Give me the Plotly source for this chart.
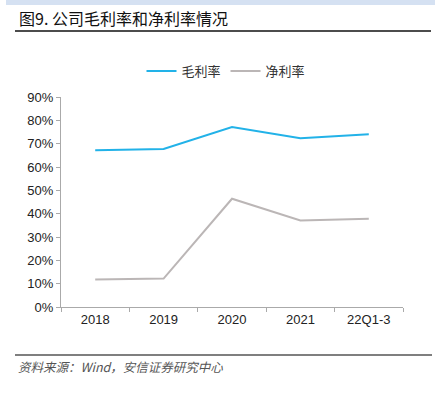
import plotly.graph_objects as go

categories = ["2018", "2019", "2020", "2021", "22Q1-3"]
gross_margin = [67.2, 67.7, 77.1, 72.3, 74.0]
net_margin = [11.8, 12.2, 46.4, 37.1, 37.8]
y_ticks = [0, 10, 20, 30, 40, 50, 60, 70, 80, 90]
y_tick_labels = [f"{v}%" for v in y_ticks]

W, H = 435, 394
L, R, T, B = 61, 32, 97, 87

def px(x):
    return (x - L) / (W - L - R)

def py(y):
    return (H - B - y) / (H - T - B)

fig = go.Figure()
fig.add_trace(go.Scatter(x=categories, y=gross_margin, mode="lines", name="毛利率",
                         line=dict(color="#22b2e8", width=2)))
fig.add_trace(go.Scatter(x=categories, y=net_margin, mode="lines", name="净利率",
                         line=dict(color="#bbb6b6", width=2)))

shapes = [
    # top band
    dict(type="rect", xref="paper", yref="paper", x0=px(6), x1=px(435), y0=py(5), y1=py(0),
         fillcolor="#d5e1f2", line=dict(width=0), layer="below"),
    # title underline
    dict(type="line", xref="paper", yref="paper", x0=px(15), x1=px(431), y0=py(31), y1=py(31),
         line=dict(color="#111111", width=1.5)),
    # bottom rule
    dict(type="line", xref="paper", yref="paper", x0=px(15), x1=px(432), y0=py(355), y1=py(355),
         line=dict(color="#555555", width=1.5)),
]

annotations = [
    dict(text="图9. 公司毛利率和净利率情况", xref="paper", yref="paper", x=px(17), y=py(18),
         xanchor="left", yanchor="middle", showarrow=False,
         font=dict(family="Noto Sans CJK SC", size=16, color="#111111")),
    dict(text="<i>资料来源：Wind，安信证券研究中心</i>", xref="paper", yref="paper", x=px(16), y=py(366),
         xanchor="left", yanchor="middle", showarrow=False,
         font=dict(family="Noto Sans CJK SC, Liberation Sans", size=12.5, color="#555555")),
]

fig.update_layout(
    width=W, height=H,
    margin=dict(l=L, r=R, t=T, b=B, autoexpand=False),
    paper_bgcolor="white", plot_bgcolor="white",
    shapes=shapes, annotations=annotations,
    showlegend=True,
    legend=dict(orientation="h", x=px(226), xanchor="center", y=py(71), yanchor="middle",
                font=dict(family="Noto Sans CJK SC", size=13, color="#333333"),
                itemwidth=30),
    xaxis=dict(type="category", showgrid=False, showline=True, linecolor="#aaaaaa", linewidth=1,
               ticks="outside", tickson="boundaries", ticklen=4, tickcolor="#aaaaaa",
               tickfont=dict(family="Liberation Sans, Arial", size=13, color="#222222"),
               range=[-0.5, 4.5]),
    yaxis=dict(range=[0, 90], tickvals=y_ticks, ticktext=y_tick_labels, showgrid=False,
               showline=True, linecolor="#aaaaaa", linewidth=1, ticks="outside", ticklen=4,
               tickcolor="#aaaaaa", zeroline=False,
               tickfont=dict(family="Liberation Sans, Arial", size=13, color="#222222")),
)

fig.write_html("out.html", config={"displayModeBar": False},
               post_script="document.body.style.margin='0';")
